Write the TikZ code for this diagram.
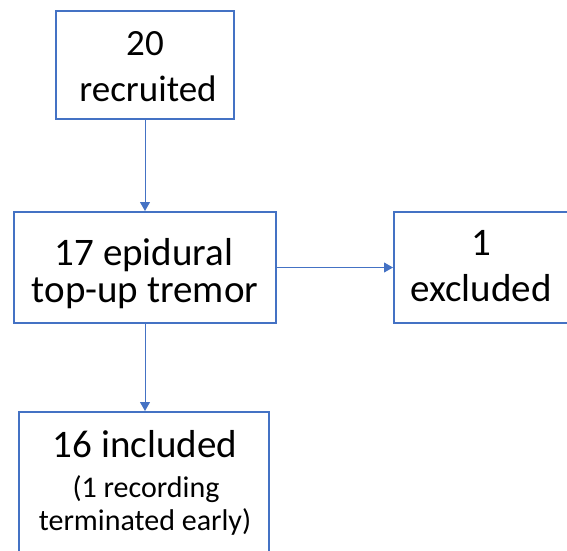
\documentclass[tikz,border=0pt]{standalone}
\usepackage{fontspec}
\setmainfont{Carlito}
\usetikzlibrary{arrows.meta}
\definecolor{oblue}{HTML}{4472C4}
\tikzset{
  box/.style={draw=oblue, line width=2pt, fill=white, inner sep=0pt},
  conn/.style={draw=oblue, line width=1pt, -{Triangle[length=9pt,width=10pt]}},
  big/.style={font=\fontsize{37}{44}\selectfont, anchor=base, inner sep=0pt},
  bigger/.style={font=\fontsize{39}{44}\selectfont, anchor=base, inner sep=0pt},
  small/.style={font=\fontsize{30}{33}\selectfont, anchor=base, inner sep=0pt}
}
\begin{document}
\begin{tikzpicture}[x=1pt,y=-1pt]
\useasboundingbox (0,0) rectangle (567,550);
\begin{scope}
\clip (0,0) rectangle (567,550);
\node[box, minimum width=178pt, minimum height=108pt] (b1) at (145,65) {};
\node[box, minimum width=262pt, minimum height=111pt] (b2) at (145,267.5) {};
\node[box, minimum width=174pt, minimum height=111pt] (b3) at (481,267.5) {};
\node[box, minimum width=250pt, minimum height=148pt] (b4) at (144,486) {};
\end{scope}
\node[big] (t1a) at (145,55) {20};
\node[big] (t1b) at (148,101) {recruited};
\node[bigger] (t2a) at (144,265) {17 epidural};
\node[bigger] (t2b) at (145,302) {top-up tremor};
\node[bigger] (t3a) at (481,255) {1};
\node[bigger] (t3b) at (481,301) {excluded};
\node[bigger] (t4a) at (145,457) {16 included};
\node[small] (t4b) at (146,497) {(1 recording};
\node[small] (t4c) at (145,530) {terminated early)};
\draw[conn] (b1.south) -- (b2.north);
\draw[conn] (b2.east) -- (b3.west);
\draw[conn] (b2.south) -- (b2.south |- b4.north);
\end{tikzpicture}
\end{document}
